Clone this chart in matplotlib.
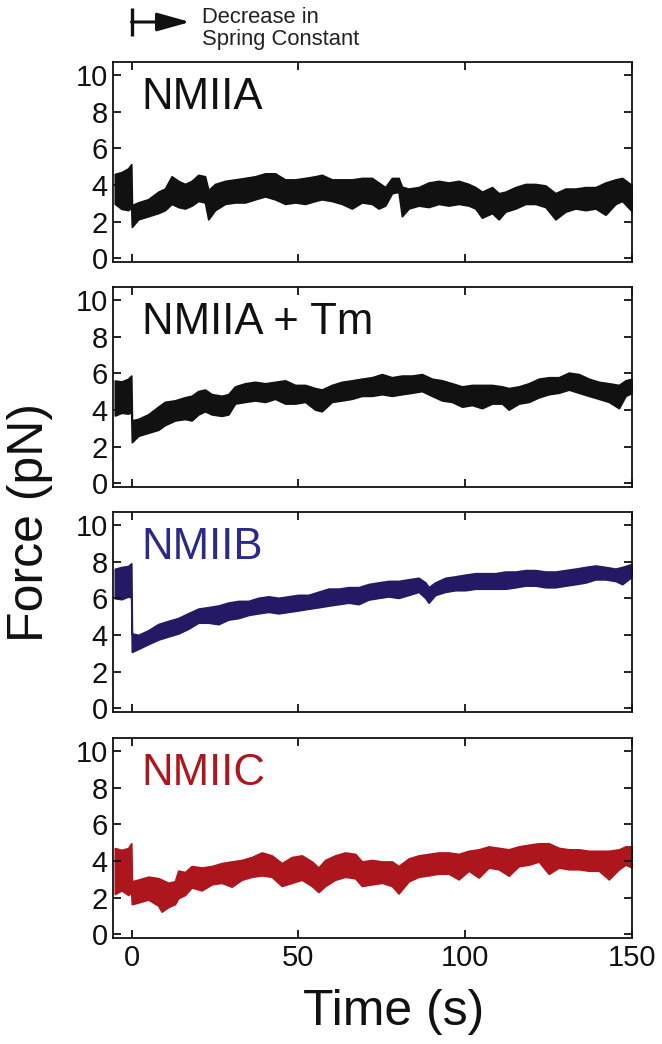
import numpy as np
import matplotlib
matplotlib.use('Agg')
import matplotlib.pyplot as plt
import matplotlib.transforms as mtransforms

plt.rcParams['font.family'] = ['Liberation Sans', 'DejaVu Sans']

# ---- data: time (s), upper / lower edge of the noisy band (pN)
names = ['NMIIA', 'NMIIA + Tm', 'NMIIB', 'NMIIC']
colors = ['#111111', '#111111', '#231964', '#ae161e']
label_colors = ['#111111', '#111111', '#2b2a8a', '#ae161e']

t_a = [-5, -3, -1, -0.1, 0.1, 2, 5, 8, 10, 12, 14, 16, 18, 20, 22, 23, 25, 28, 31, 34,
       37, 40, 43, 46, 49, 52, 55, 57, 60, 63, 66, 69, 72, 74, 76, 78, 80, 81, 83, 86,
       89, 92, 95, 98, 101, 103, 105, 108, 110, 112, 115, 118, 121, 124, 127, 130, 133,
       136, 139, 142, 145, 147, 150]
hi_a = [4.6, 4.7, 4.9, 5.13, 2.9, 3.05, 3.22, 3.63, 3.8, 4.47, 4.22, 4.05, 4.22, 4.55, 4.47,
        3.72, 4.05, 4.22, 4.3, 4.38, 4.47, 4.63, 4.63, 4.3, 4.3, 4.38, 4.47, 4.55, 4.3, 4.3,
        4.3, 4.38, 4.38, 4.13, 3.88, 4.38, 4.38, 3.9, 3.8, 3.88, 4.13, 4.22, 4.13, 4.22, 4.05,
        3.88, 3.63, 3.88, 3.55, 3.63, 3.88, 4.05, 4.05, 3.97, 3.55, 3.8, 3.8, 3.88, 3.88, 4.13,
        4.3, 4.38, 3.97]
lo_a = [2.97, 2.7, 2.63, 2.8, 1.72, 2.13, 2.3, 2.47, 2.63, 2.97, 2.8, 2.72, 2.88, 3.13, 3.05,
        2.13, 2.63, 2.97, 3.05, 3.05, 3.22, 3.38, 3.22, 2.97, 3.05, 2.97, 3.13, 3.22, 3.13, 2.97,
        2.72, 3.05, 2.97, 2.72, 2.88, 3.55, 3.63, 2.3, 2.72, 2.88, 2.8, 2.97, 2.88, 2.97, 2.88,
        2.72, 2.22, 2.47, 2.13, 2.55, 2.72, 2.97, 2.97, 2.8, 2.13, 2.55, 2.72, 2.63, 2.72, 2.38,
        2.97, 3.13, 2.55]

t_tm = [-5, -3, -1, -0.1, 0.1, 2, 5, 8, 10, 13, 16, 18, 20, 22, 24, 27, 29, 31, 34, 37,
        40, 43, 46, 49, 52, 55, 57, 60, 63, 66, 69, 72, 75, 78, 81, 84, 87, 90, 93, 96,
        99, 102, 105, 108, 111, 113, 116, 119, 122, 125, 128, 131, 134, 137, 140, 143, 146,
        148, 150]
hi_tm = [5.6, 5.55, 5.7, 5.87, 3.43, 3.51, 3.76, 4.18, 4.44, 4.52, 4.69, 4.77, 5.03, 5.11, 4.86,
         4.77, 4.86, 5.28, 5.45, 5.53, 5.45, 5.53, 5.61, 5.36, 5.36, 5.19, 5.11, 5.36, 5.53, 5.61,
         5.7, 5.78, 5.95, 5.78, 5.87, 5.87, 5.95, 5.7, 5.61, 5.45, 5.28, 5.36, 5.36, 5.36, 5.28,
         5.19, 5.28, 5.45, 5.7, 5.78, 5.78, 6.03, 5.95, 5.7, 5.53, 5.45, 5.36, 5.61, 5.7]
lo_tm = [3.7, 3.85, 3.8, 3.9, 2.25, 2.59, 2.76, 2.92, 3.18, 3.43, 3.51, 3.43, 3.76, 3.93, 3.76,
         3.68, 3.76, 4.35, 4.44, 4.52, 4.44, 4.61, 4.35, 4.35, 4.44, 4.02, 3.93, 4.44, 4.52, 4.61,
         4.77, 4.77, 4.86, 4.77, 4.86, 4.94, 5.03, 4.77, 4.52, 4.44, 4.18, 4.27, 4.1, 4.35, 4.35,
         4.02, 4.35, 4.44, 4.69, 4.86, 4.94, 5.11, 4.94, 4.77, 4.61, 4.44, 4.1, 4.77, 4.94]

t_b = [-5, -3, -1, -0.1, 0.1, 2, 5, 8, 11, 14, 17, 20, 23, 26, 29, 32, 35, 38, 41, 44,
       47, 50, 53, 56, 59, 62, 65, 68, 71, 74, 77, 80, 83, 86, 88, 89, 91, 94, 97, 100,
       103, 106, 109, 112, 115, 118, 121, 124, 127, 130, 133, 136, 139, 142, 145, 147, 150]
hi_b = [7.6, 7.7, 7.75, 7.9, 4.08, 4.0, 4.25, 4.59, 4.76, 4.92, 5.18, 5.43, 5.51, 5.6, 5.76,
        5.85, 5.85, 6.02, 6.1, 6.02, 6.1, 6.18, 6.18, 6.35, 6.52, 6.52, 6.6, 6.6, 6.77, 6.86,
        6.94, 6.94, 7.03, 7.11, 6.86, 6.6, 6.86, 7.11, 7.19, 7.28, 7.36, 7.36, 7.36, 7.45, 7.45,
        7.53, 7.53, 7.45, 7.45, 7.53, 7.61, 7.7, 7.78, 7.7, 7.61, 7.7, 7.87]
lo_b = [6.0, 5.95, 6.1, 6.05, 3.08, 3.24, 3.5, 3.75, 3.92, 4.08, 4.34, 4.67, 4.67, 4.59, 4.84,
        4.92, 5.09, 5.18, 5.26, 5.18, 5.26, 5.34, 5.43, 5.51, 5.6, 5.68, 5.76, 5.68, 5.93, 6.02,
        6.1, 6.02, 6.18, 6.35, 6.02, 5.76, 6.18, 6.35, 6.44, 6.44, 6.52, 6.52, 6.52, 6.52, 6.6,
        6.69, 6.69, 6.6, 6.6, 6.69, 6.77, 6.86, 7.03, 7.03, 6.94, 6.77, 7.19]

t_c = [-5, -3, -1, -0.1, 0.1, 2, 5, 8, 9, 11, 13, 14, 16, 18, 21, 24, 27, 30, 33, 36,
       39, 42, 45, 48, 51, 54, 56, 58, 61, 64, 67, 69, 72, 75, 78, 80, 83, 86, 89, 92,
       95, 98, 101, 104, 107, 110, 113, 116, 119, 122, 125, 128, 131, 134, 137, 140, 143,
       146, 148, 150]
hi_c = [4.7, 4.6, 4.7, 4.96, 2.89, 2.98, 3.14, 3.06, 2.98, 2.81, 2.89, 3.47, 3.39, 3.72, 3.64,
        3.72, 3.88, 3.97, 4.05, 4.21, 4.46, 4.3, 3.88, 4.21, 4.3, 3.97, 3.64, 4.05, 4.3, 4.46,
        4.38, 3.97, 4.05, 3.97, 3.97, 3.72, 4.13, 4.3, 4.38, 4.46, 4.46, 4.38, 4.55, 4.63, 4.79,
        4.71, 4.63, 4.79, 4.88, 4.96, 4.96, 4.71, 4.63, 4.63, 4.55, 4.55, 4.55, 4.63, 4.79, 4.79]
lo_c = [2.2, 2.4, 2.15, 2.3, 1.65, 1.74, 1.9, 1.57, 1.24, 1.49, 1.65, 1.98, 2.15, 2.56, 2.4,
        2.73, 2.81, 2.6, 2.98, 3.14, 3.22, 3.14, 2.64, 2.81, 2.98, 2.64, 2.31, 2.64, 2.98, 3.14,
        3.06, 2.64, 2.73, 2.81, 2.64, 2.23, 2.89, 3.14, 3.22, 3.31, 3.31, 3.0, 3.47, 3.1, 3.64,
        3.55, 3.2, 3.72, 3.8, 3.97, 3.3, 3.64, 3.55, 3.55, 3.47, 3.47, 3.0, 3.55, 3.8, 3.64]

times = [t_a, t_tm, t_b, t_c]
uppers = [hi_a, hi_tm, hi_b, hi_c]
lowers = [lo_a, lo_tm, lo_b, lo_c]

x_ticks = [0, 50, 100, 150]
y_ticks = [0, 2, 4, 6, 8, 10]

fig = plt.figure(figsize=(6.62, 10.44), dpi=100)

# panel boxes (fig fraction)
left, width, height = 0.171, 0.784, 0.1916
bottoms = [0.749, 0.5335, 0.318, 0.1015]

axes = []
for i in range(4):
    ax = fig.add_axes([left, bottoms[i], width, height])
    t = np.array(times[i])
    ax.fill_between(t, lowers[i], uppers[i], color=colors[i], lw=1.3, edgecolor=colors[i])
    ax.set_xlim(-5.5, 150)
    ax.set_ylim(-0.2, 10.7)
    ax.set_xticks(x_ticks)
    ax.set_yticks(y_ticks)
    ax.tick_params(direction='in', length=6, width=1.3, labelsize=21, pad=4,
                   top=True, right=True, colors='#111111')
    if i < 3:
        ax.tick_params(labelbottom=False)
    for s in ax.spines.values():
        s.set_linewidth(1.3)
        s.set_color('#111111')
    ax.text(0.055, 0.925, names[i], transform=ax.transAxes, fontsize=31.5,
            va='top', ha='left', color=label_colors[i])
    axes.append(ax)

fig.text(0.045, 0.5, 'Force (pN)', rotation=90, fontsize=36, va='center', ha='center',
         color='#111111')
fig.text(0.595, 0.031, 'Time (s)', fontsize=36, va='center', ha='center', color='#111111')

# "decrease in spring constant" marker above the first panel
ax0 = axes[0]
trans = mtransforms.blended_transform_factory(ax0.transData, ax0.transAxes)
ax0.plot([0, 0], [1.13, 1.27], color='#111111', lw=2.4, transform=trans, clip_on=False,
         solid_capstyle='butt')
ax0.annotate('', xy=(17.5, 1.2), xytext=(0, 1.2), xycoords=trans, textcoords=trans,
             arrowprops=dict(arrowstyle='-|>,head_length=1.0,head_width=0.28',
                             mutation_scale=20, color='#111111', lw=2.2,
                             shrinkA=0, shrinkB=0))
ax0.text(21, 1.275, 'Decrease in\nSpring Constant', transform=trans, fontsize=15.8,
         va='top', ha='left', color='#222222', linespacing=1.05)

fig.savefig('out.png', dpi=100)
